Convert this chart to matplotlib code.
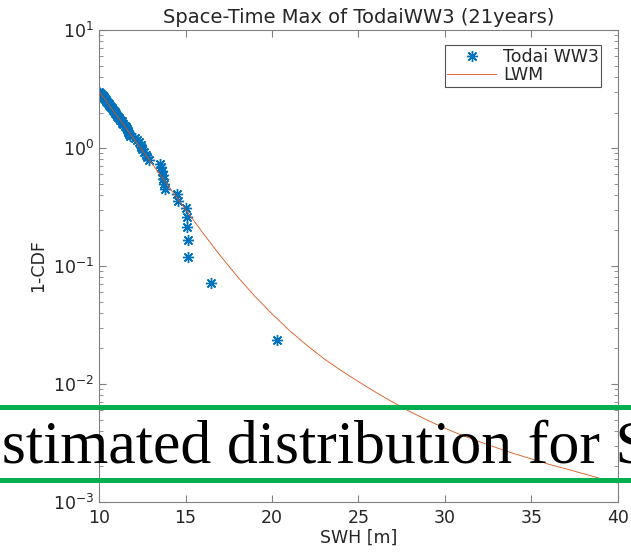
import numpy as np
import matplotlib
matplotlib.use("Agg")
import matplotlib.pyplot as plt
from matplotlib.lines import Line2D
from matplotlib.ticker import LogLocator, FuncFormatter, NullFormatter

plt.rcParams["font.family"] = ["DejaVu Sans"]

# annual exceedance rate of space-time max SWH (Todai WW3, 21 years)
swh_obs = [20.3, 16.5, 15.15, 15.15, 15.1, 15.1, 15.0, 14.55, 14.5, 13.8,
           13.75, 13.7, 13.7, 13.65, 13.6, 13.5, 12.9, 12.8, 12.7, 12.6,
           12.5, 12.45, 12.4, 12.3, 12.2, 12.1, 11.8, 11.75, 11.7, 11.65,
           11.6, 11.55, 11.5, 11.4, 11.35, 11.3, 11.2, 11.15, 11.1, 11.05,
           11.0, 10.95, 10.9, 10.85, 10.8, 10.75, 10.7, 10.65, 10.6, 10.55,
           10.5, 10.45, 10.4, 10.4, 10.35, 10.3, 10.3, 10.25, 10.2, 10.15,
           10.1, 10.05, 10.0]
rate_obs = [0.0238, 0.0714, 0.119, 0.167, 0.214, 0.262, 0.310, 0.357, 0.405, 0.452,
            0.500, 0.548, 0.595, 0.643, 0.690, 0.738, 0.786, 0.833, 0.881, 0.929,
            0.976, 1.024, 1.071, 1.119, 1.167, 1.214, 1.262, 1.310, 1.357, 1.405,
            1.452, 1.500, 1.548, 1.595, 1.643, 1.690, 1.738, 1.786, 1.833, 1.881,
            1.929, 1.976, 2.024, 2.071, 2.119, 2.167, 2.214, 2.262, 2.310, 2.357,
            2.405, 2.452, 2.500, 2.548, 2.595, 2.643, 2.690, 2.738, 2.786, 2.833,
            2.881, 2.929, 2.976]

# LWM fit
swh_fit = [10, 11, 12, 13, 14, 15, 16, 17, 18, 19, 20, 21, 22, 23, 24, 25,
           26, 27, 28, 29, 30, 31, 32, 33, 34, 35, 36, 37, 38, 39, 40]
rate_fit = [3.02, 1.905, 1.202, 0.759, 0.479, 0.302, 0.191, 0.123, 0.0813, 0.0556,
            0.0394, 0.0285, 0.0214, 0.0164, 0.0130, 0.01047, 0.00851, 0.00700,
            0.00582, 0.00492, 0.00422, 0.00367, 0.00324, 0.00288, 0.00257,
            0.00232, 0.00209, 0.00191, 0.00174, 0.00158, 0.00145]

fig = plt.figure(figsize=(6.31, 5.52), dpi=100)
ax = fig.add_axes([0.157, 0.0906, 0.822, 0.855])

ax.plot(swh_obs, rate_obs, linestyle="none", marker=(8, 2, 0), markersize=8,
        markeredgewidth=1.0, color="#0072BD", label="Todai WW3")
ax.plot(swh_fit, rate_fit, color="#D95319", linewidth=0.6, label="LWM")

ax.set_yscale("log")
ax.set_xlim(10, 40)
ax.set_ylim(1e-3, 1e1)
ax.set_xticks([10, 15, 20, 25, 30, 35, 40])
ax.yaxis.set_major_locator(LogLocator(base=10, numticks=10))
ax.yaxis.set_major_formatter(FuncFormatter(lambda v, p: r"$\mathregular{10^{%d}}$" % round(np.log10(v))))
ax.yaxis.set_minor_locator(LogLocator(base=10, subs=np.arange(2, 10), numticks=20))
ax.yaxis.set_minor_formatter(NullFormatter())

gray = "#262626"
for s in ax.spines.values():
    s.set_color("#808080")
    s.set_linewidth(0.8)
ax.tick_params(which="both", direction="in", top=True, right=True,
               colors=gray, labelsize=12.5)
ax.tick_params(which="major", length=5, color="#808080")
ax.tick_params(which="minor", length=3, color="#808080")
ax.tick_params(axis="x", pad=5)

ax.set_title("Space-Time Max of TodaiWW3 (21years)", fontsize=14, color=gray, pad=5)
ax.set_xlabel("SWH [m]", fontsize=12.5, color=gray, labelpad=1)
ax.set_ylabel("1-CDF", fontsize=12.5, color=gray, labelpad=4)

leg = ax.legend(loc="upper right", fontsize=12.5, frameon=True, fancybox=False,
                borderpad=0.15, labelspacing=0.0, handlelength=2.8,
                bbox_to_anchor=(0.975, 0.975), handletextpad=0.4, borderaxespad=0.2)
leg.get_frame().set_edgecolor(gray)
leg.get_frame().set_linewidth(0.8)
for t in leg.get_texts():
    t.set_color(gray)

# slide overlay band
green = "#00B050"
fig.add_artist(Line2D([0, 1], [0.2627, 0.2627], color=green, linewidth=3.6))
fig.add_artist(Line2D([0, 1], [0.1304, 0.1304], color=green, linewidth=3.6))
fig.text(-0.057, 0.161, "Estimated distribution for SWH", fontsize=44.6,
         family="Liberation Serif", color="black", ha="left", va="baseline")

fig.savefig("out.png", dpi=100)
